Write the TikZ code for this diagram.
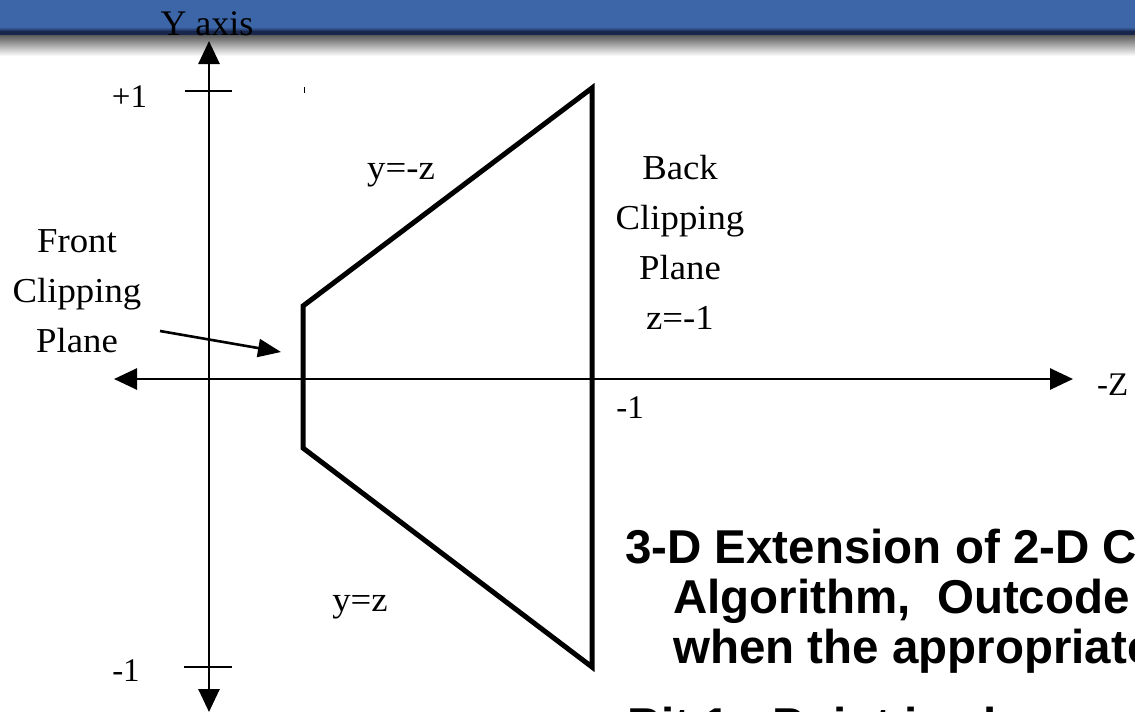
\documentclass[tikz,border=0pt]{standalone}
\usepackage{fontspec}
\setmainfont{Liberation Serif}
\setsansfont{Liberation Sans}
\newfontfamily\labfont[FakeStretch=1.05]{Liberation Serif}
\usetikzlibrary{arrows.meta}
\definecolor{barblue}{HTML}{3D66A8}
\definecolor{barnavy}{HTML}{17264A}
\definecolor{bargray}{HTML}{5E5E5E}
\newcommand\mylabfont{\labfont\fontsize{35}{50}\selectfont}
\newcommand\mynumfont{\rmfamily\fontsize{33}{40}\selectfont}
\newcommand\mybigfont{\sffamily\bfseries\fontsize{47.5}{50}\selectfont}
\tikzset{
  bigtip/.tip={Triangle[length=23pt,width=21pt]},
  axisline/.style={line width=2.7pt, bigtip-bigtip},
  tickline/.style={line width=2.6pt},
  planeline/.style={line width=5pt, line join=miter},
  pointer/.style={line width=2.6pt, -{Triangle[length=23pt,width=18pt]}},
  lab/.style={inner sep=0pt, anchor=base, font=\mylabfont},
  num/.style={inner sep=0pt, anchor=base, font=\mynumfont},
  bigtext/.style={inner sep=0pt, anchor=base west, font=\mybigfont},
}
\begin{document}
\begin{tikzpicture}[x=1pt,y=-1pt]
\useasboundingbox (0,0) rectangle (1135,712);
\clip (0,0) rectangle (1135,712);
% title bar
\fill[barblue] (0,0) rectangle (1135,27);
\shade[top color=barblue, bottom color=barnavy!80!barblue] (0,27) rectangle (1135,30.5);
\fill[barnavy] (0,30.5) rectangle (1135,35.5);
\shade[top color=bargray, bottom color=white] (0,35.5) rectangle (1135,56);
% coordinates
\coordinate (ytop) at (209,41);
\coordinate (ybot) at (209,712);
\coordinate (zleft) at (114,379);
\coordinate (zright) at (1073,379);
\coordinate (tpl) at (185,91);
\coordinate (tpr) at (232,91);
\coordinate (tml) at (184,667);
\coordinate (tmr) at (232,667);
\coordinate (btop) at (592,88);
\coordinate (bbot) at (592,667);
\coordinate (ftop) at (303,306);
\coordinate (fbot) at (303,448);
\coordinate (ptail) at (160,331);
\coordinate (phead) at (281,352);
\coordinate (mk1) at (304,87);
\coordinate (mk2) at (304,93);
% axes
\draw[axisline] (ybot) -- (ytop);
\draw[axisline] (zleft) -- (zright);
\draw[tickline] (tpl) -- (tpr);
\draw[tickline] (tml) -- (tmr);
\draw[line width=1pt] (mk1) -- (mk2);
% view volume
\draw[planeline] (btop) -- (ftop) -- (fbot) -- (bbot) -- cycle;
% pointer
\draw[pointer] (ptail) -- (phead);
% labels
\node[inner sep=0pt, anchor=base, font=\rmfamily\fontsize{36}{40}\selectfont] (yaxis) at (207,35) {Y axis};
\node[num] (plus1) at (129.5,107) {+1};
\node[num] (minus1y) at (126,681) {-1};
\node[num] (minus1z) at (630,418) {-1};
\node[num, anchor=base west] (zlab) at (1097,395) {-Z};
\node[lab] (front) at (77,252) {\begin{tabular}[t]{@{}c@{}}Front\\Clipping\\Plane\end{tabular}};
\node[lab] (back) at (680,179) {\begin{tabular}[t]{@{}c@{}}Back\\Clipping\\Plane\\z=-1\end{tabular}};
\node[lab] (ymz) at (401,179) {y=-z};
\node[lab] (yz) at (360,611) {y=z};
% slide text
\node[bigtext] (t1) at (625,563) {3-D Extension of 2-D C};
\node[bigtext] (t2) at (673,613) {Algorithm,\ \ Outcode};
\node[bigtext] (t3) at (673,663) {when the appropriate};
\node[bigtext] (t4) at (627,741) {Bit 1 - Point is above view};
\end{tikzpicture}
\end{document}
